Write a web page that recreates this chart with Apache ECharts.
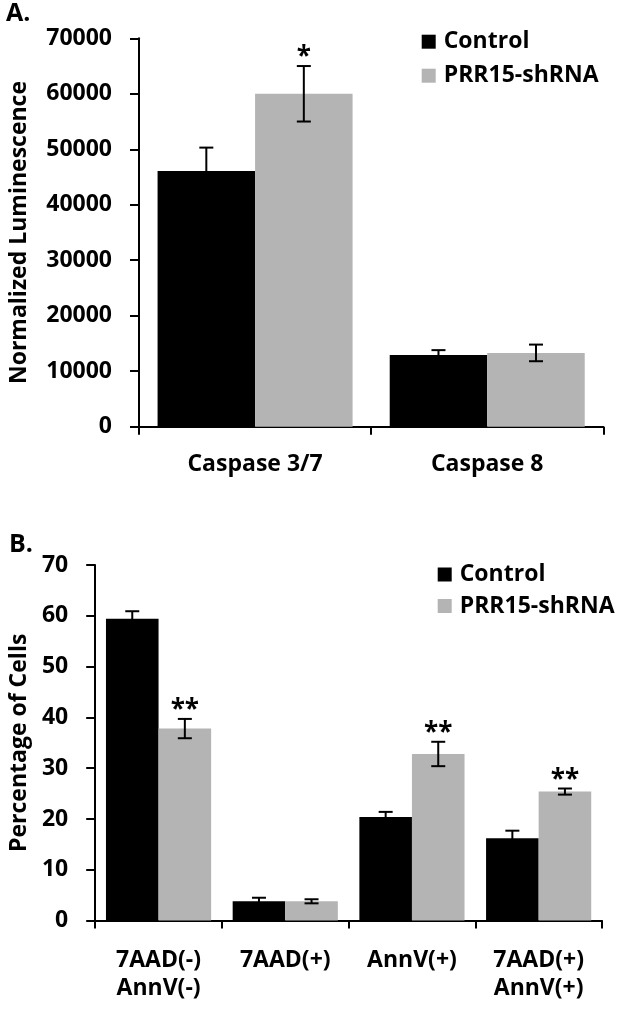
<!DOCTYPE html>
<html>
<head>
<meta charset="utf-8">
<script src="https://cdn.jsdelivr.net/npm/echarts@6/dist/echarts.min.js"></script>
<style>
html,body{margin:0;padding:0;background:#fff;}
#main{width:625px;height:1010px;}
</style>
</head>
<body>
<div id="main"></div>
<script>
// ---- Data (panel A) ----
const catsA = ['Caspase 3/7', 'Caspase 8'];
const controlA = [46100, 12900];
const controlErrA = [4200, 900];
const shrnaA = [60000, 13300];
const shrnaErrA = [5000, 1500];
const sigA = ['*', ''];
const ticksA = { min: 0, max: 70000, interval: 10000 };

// ---- Data (panel B) ----
const catsB = ['7AAD(-)\nAnnV(-)', '7AAD(+)', 'AnnV(+)', '7AAD(+)\nAnnV(+)'];
const controlB = [59.4, 3.8, 20.4, 16.2];
const controlErrB = [1.5, 0.7, 1.0, 1.5];
const shrnaB = [37.8, 3.8, 32.8, 25.4];
const shrnaErrB = [1.9, 0.4, 2.4, 0.6];
const sigB = ['**', '', '**', '**'];
const ticksB = { min: 0, max: 70, interval: 10 };

const FONT = 'Open Sans';
const BLACK = '#000000';
const GRAY = '#b4b4b4';
const gapA = 0.16, gapB = 0.17;

const txt = { fontFamily: FONT, fontWeight: 'bold', fontSize: 23, color: BLACK };

function errRender(gap, side, sig) {
  return function (params, api) {
    const x = api.value(0), v = api.value(1), e = api.value(2);
    const c = api.coord([x, v]);
    const top = api.coord([x, v + e]);
    const bot = api.coord([x, v - e]);
    const catW = api.size([1, 0])[0];
    const bw = catW * (1 - gap) / 2;
    const cx = c[0] + side * bw / 2;
    const cap = 7;
    const ls = { stroke: BLACK, lineWidth: 2 };
    const children = [
      { type: 'line', shape: { x1: cx, y1: top[1], x2: cx, y2: bot[1] }, style: ls },
      { type: 'line', shape: { x1: cx - cap, y1: top[1], x2: cx + cap, y2: top[1] }, style: ls },
      { type: 'line', shape: { x1: cx - cap, y1: bot[1], x2: cx + cap, y2: bot[1] }, style: ls }
    ];
    const s = sig[params.dataIndex];
    if (s) {
      children.push({ type: 'text', style: { text: s, x: cx, y: top[1] - 8, align: 'center', verticalAlign: 'middle', font: 'bold 26px ' + FONT, fill: BLACK } });
    }
    return { type: 'group', children: children };
  };
}

function errData(vals, errs) {
  return vals.map((v, i) => [i, v, errs[i]]);
}

const axisLineStyle = { color: BLACK, width: 2 };

function xAx(grid, cats, margin) {
  return {
    type: 'category', gridIndex: grid, data: cats,
    axisLine: { show: true, lineStyle: axisLineStyle },
    axisTick: { show: true, length: 8, lineStyle: axisLineStyle },
    axisLabel: Object.assign({ margin: margin, lineHeight: 28, interval: 0 }, txt),
    splitLine: { show: false }
  };
}
function yAx(grid, t, name, nameGap) {
  return {
    type: 'value', gridIndex: grid, min: t.min, max: t.max, interval: t.interval,
    axisLine: { show: true, lineStyle: axisLineStyle },
    axisTick: { show: true, length: 9, lineStyle: axisLineStyle },
    axisLabel: Object.assign({ margin: 27, formatter: v => String(v) }, txt),
    splitLine: { show: false },
    name: name, nameLocation: 'middle', nameGap: nameGap,
    nameTextStyle: Object.assign({}, txt)
  };
}
function legend(left, top, gap) {
  return {
    left: left, top: top, orient: 'vertical', padding: 0, itemGap: gap,
    itemWidth: 14, itemHeight: 14, icon: 'rect', selectedMode: false,
    data: ['Control', 'PRR15-shRNA'],
    textStyle: Object.assign({ lineHeight: 24, padding: [0, 0, 0, 3] }, txt)
  };
}

const chart = echarts.init(document.getElementById('main'), null, { renderer: 'canvas' });
chart.setOption({
  backgroundColor: '#ffffff',
  animation: false,
  title: [
    { text: 'A.', left: 6, top: 1, padding: 0, textStyle: Object.assign({}, txt, { fontSize: 25 }) },
    { text: 'B.', left: 9, top: 532, padding: 0, textStyle: Object.assign({}, txt, { fontSize: 25 }) }
  ],
  legend: [legend(421.7, 29.7, 10), legend(437.7, 562.5, 7.5)],
  grid: [
    { left: 135, top: 38.3, width: 468.3, height: 388.4, containLabel: false },
    { left: 92.7, top: 565, width: 509.3, height: 355.6, containLabel: false }
  ],
  xAxis: [xAx(0, catsA, 24), xAx(1, catsB, 26)],
  yAxis: [yAx(0, ticksA, 'Normalized Luminescence', 108), yAx(1, ticksB, 'Percentage of Cells', 62)],
  series: [
    { name: 'Control', type: 'bar', xAxisIndex: 0, yAxisIndex: 0, data: controlA, itemStyle: { color: BLACK }, barGap: '0%', barCategoryGap: (gapA * 100) + '%' },
    { name: 'PRR15-shRNA', type: 'bar', xAxisIndex: 0, yAxisIndex: 0, data: shrnaA, itemStyle: { color: GRAY }, barGap: '0%', barCategoryGap: (gapA * 100) + '%' },
    { name: 'ctrlErrA', type: 'custom', xAxisIndex: 0, yAxisIndex: 0, data: errData(controlA, controlErrA), renderItem: errRender(gapA, -1, ['', '']), encode: { x: 0, y: 1 }, z: 5 },
    { name: 'shErrA', type: 'custom', xAxisIndex: 0, yAxisIndex: 0, data: errData(shrnaA, shrnaErrA), renderItem: errRender(gapA, 1, sigA), encode: { x: 0, y: 1 }, z: 5 },
    { name: 'Control', type: 'bar', xAxisIndex: 1, yAxisIndex: 1, data: controlB, itemStyle: { color: BLACK }, barGap: '0%', barCategoryGap: (gapB * 100) + '%' },
    { name: 'PRR15-shRNA', type: 'bar', xAxisIndex: 1, yAxisIndex: 1, data: shrnaB, itemStyle: { color: GRAY }, barGap: '0%', barCategoryGap: (gapB * 100) + '%' },
    { name: 'ctrlErrB', type: 'custom', xAxisIndex: 1, yAxisIndex: 1, data: errData(controlB, controlErrB), renderItem: errRender(gapB, -1, ['', '', '', '']), encode: { x: 0, y: 1 }, z: 5 },
    { name: 'shErrB', type: 'custom', xAxisIndex: 1, yAxisIndex: 1, data: errData(shrnaB, shrnaErrB), renderItem: errRender(gapB, 1, sigB), encode: { x: 0, y: 1 }, z: 5 }
  ]
});
</script>
</body>
</html>
